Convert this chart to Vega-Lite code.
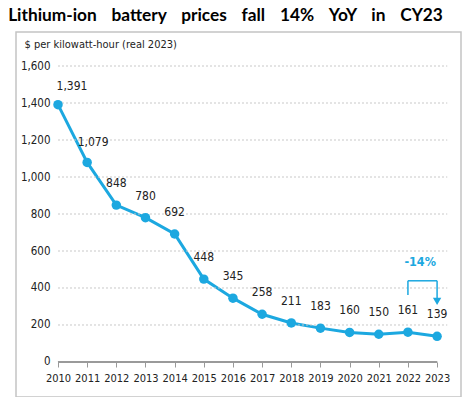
{
  "$schema": "https://vega.github.io/schema/vega-lite/v6.json",
  "autosize": {"type": "none"},
  "width": 445,
  "height": 365,
  "padding": {"left": 16, "top": 32, "right": 13, "bottom": 0},
  "background": "white",
  "title": {
    "text": "Lithium-ion\u00a0\u00a0\u00a0\u2009battery\u00a0\u00a0\u00a0\u2009prices\u00a0\u00a0\u00a0\u2009fall\u00a0\u00a0\u00a0\u200914%\u00a0\u00a0\u00a0\u2009YoY\u00a0\u00a0\u00a0\u2009in\u00a0\u00a0\u00a0\u2009CY23",
    "font": "Lato",
    "fontSize": 17.3,
    "fontWeight": "bold",
    "color": "#000000",
    "anchor": "middle",
    "dx": -13,
    "offset": 8
  },
  "datasets": {
    "prices": [
      {"year": 2010, "price": 1391},
      {"year": 2011, "price": 1079},
      {"year": 2012, "price": 848},
      {"year": 2013, "price": 780},
      {"year": 2014, "price": 692},
      {"year": 2015, "price": 448},
      {"year": 2016, "price": 345},
      {"year": 2017, "price": 258},
      {"year": 2018, "price": 211},
      {"year": 2019, "price": 183},
      {"year": 2020, "price": 160},
      {"year": 2021, "price": 150},
      {"year": 2022, "price": 161},
      {"year": 2023, "price": 139}
    ],
    "grid": [
      {"v": 200}, {"v": 400}, {"v": 600}, {"v": 800},
      {"v": 1000}, {"v": 1200}, {"v": 1400}, {"v": 1600}
    ],
    "bracket": [
      {"xa": 2022, "ya": 362, "xb": 2022, "yb": 439},
      {"xa": 2022, "ya": 439, "xb": 2023, "yb": 439},
      {"xa": 2023, "ya": 439, "xb": 2023, "yb": 335}
    ],
    "arrow": [{"year": 2023, "price": 328}],
    "note": [{"year": 2022.42, "price": 540, "label": "-14%"}]
  },
  "config": {
    "view": {"stroke": "#c4c4c4", "strokeWidth": 1.5},
    "text": {"font": "DejaVu Sans Condensed"},
    "axis": {
      "labelFont": "DejaVu Sans Condensed",
      "labelColor": "#222222",
      "titleFont": "DejaVu Sans Condensed",
      "titleFontSize": 11,
      "titleFontWeight": "normal",
      "titleColor": "#222222",
      "grid": false,
      "domain": false
    },
    "axisX": {"labelFontSize": 11},
    "axisY": {"labelFontSize": 11.5}
  },
  "layer": [
    {
      "data": {"name": "prices"},
      "mark": {"type": "line", "color": "#1ca8e0", "strokeWidth": 3},
      "encoding": {
        "x": {"field": "year", "type": "quantitative", "scale": {"domain": [2008.56, 2023.82], "nice": false, "zero": false}, "title": null,
          "axis": {"orient": "bottom", "offset": -35, "values": [2010, 2011, 2012, 2013, 2014, 2015, 2016, 2017, 2018, 2019, 2020, 2021, 2022, 2023], "format": "d", "tickSize": 5, "tickColor": "#999999", "labelPadding": 5, "labelFlush": false, "labelOverlap": false}},
        "y": {"field": "price", "type": "quantitative", "scale": {"domain": [-189.2, 1783.8], "nice": false, "zero": false}, "title": "$ per kilowatt-hour (real 2023)",
          "axis": {"orient": "left", "offset": -42, "values": [0, 200, 400, 600, 800, 1000, 1200, 1400, 1600], "format": ",.0f", "ticks": false, "labelPadding": 8, "titleAngle": 0, "titleAlign": "left", "titleBaseline": "alphabetic", "titleX": -34, "titleY": 15}}
      }
    },
    {
      "data": {"name": "grid"},
      "mark": {"type": "rule", "color": "#c8c8c8", "strokeDash": [2, 2], "strokeWidth": 1},
      "encoding": {
        "y": {"field": "v", "type": "quantitative", "scale": {"domain": [-189.2, 1783.8], "nice": false, "zero": false}, "title": "$ per kilowatt-hour (real 2023)",
          "axis": {"orient": "left", "offset": -42, "values": [0, 200, 400, 600, 800, 1000, 1200, 1400, 1600], "format": ",.0f", "ticks": false, "labelPadding": 8, "titleAngle": 0, "titleAlign": "left", "titleBaseline": "alphabetic", "titleX": -34, "titleY": 15}},
        "x": {"datum": 2010, "type": "quantitative", "scale": {"domain": [2008.56, 2023.82], "nice": false, "zero": false}, "title": null,
          "axis": {"orient": "bottom", "offset": -35, "values": [2010, 2011, 2012, 2013, 2014, 2015, 2016, 2017, 2018, 2019, 2020, 2021, 2022, 2023], "format": "d", "tickSize": 5, "tickColor": "#999999", "labelPadding": 5, "labelFlush": false, "labelOverlap": false}},
        "x2": {"datum": 2023.35}
      }
    },
    {
      "data": {"name": "grid"},
      "mark": {"type": "rule", "color": "#9a9a9a", "strokeWidth": 1},
      "encoding": {
        "y": {"datum": 0, "type": "quantitative", "scale": {"domain": [-189.2, 1783.8], "nice": false, "zero": false}, "title": "$ per kilowatt-hour (real 2023)",
          "axis": {"orient": "left", "offset": -42, "values": [0, 200, 400, 600, 800, 1000, 1200, 1400, 1600], "format": ",.0f", "ticks": false, "labelPadding": 8, "titleAngle": 0, "titleAlign": "left", "titleBaseline": "alphabetic", "titleX": -34, "titleY": 15}},
        "x": {"datum": 2010, "type": "quantitative", "scale": {"domain": [2008.56, 2023.82], "nice": false, "zero": false}, "title": null,
          "axis": {"orient": "bottom", "offset": -35, "values": [2010, 2011, 2012, 2013, 2014, 2015, 2016, 2017, 2018, 2019, 2020, 2021, 2022, 2023], "format": "d", "tickSize": 5, "tickColor": "#999999", "labelPadding": 5, "labelFlush": false, "labelOverlap": false}},
        "x2": {"datum": 2023}
      }
    },
    {
      "data": {"name": "prices"},
      "mark": {"type": "circle", "color": "#1ca8e0", "size": 90, "opacity": 1},
      "encoding": {
        "x": {"field": "year", "type": "quantitative", "scale": {"domain": [2008.56, 2023.82], "nice": false, "zero": false}, "title": null,
          "axis": {"orient": "bottom", "offset": -35, "values": [2010, 2011, 2012, 2013, 2014, 2015, 2016, 2017, 2018, 2019, 2020, 2021, 2022, 2023], "format": "d", "tickSize": 5, "tickColor": "#999999", "labelPadding": 5, "labelFlush": false, "labelOverlap": false}},
        "y": {"field": "price", "type": "quantitative", "scale": {"domain": [-189.2, 1783.8], "nice": false, "zero": false}, "title": "$ per kilowatt-hour (real 2023)",
          "axis": {"orient": "left", "offset": -42, "values": [0, 200, 400, 600, 800, 1000, 1200, 1400, 1600], "format": ",.0f", "ticks": false, "labelPadding": 8, "titleAngle": 0, "titleAlign": "left", "titleBaseline": "alphabetic", "titleX": -34, "titleY": 15}}
      }
    },
    {
      "data": {"name": "prices"},
      "transform": [{"filter": "datum.year >= 2012"}],
      "mark": {"type": "text", "fontSize": 12, "color": "#222222", "dy": -22, "baseline": "middle"},
      "encoding": {
        "x": {"field": "year", "type": "quantitative", "scale": {"domain": [2008.56, 2023.82], "nice": false, "zero": false}, "title": null,
          "axis": {"orient": "bottom", "offset": -35, "values": [2010, 2011, 2012, 2013, 2014, 2015, 2016, 2017, 2018, 2019, 2020, 2021, 2022, 2023], "format": "d", "tickSize": 5, "tickColor": "#999999", "labelPadding": 5, "labelFlush": false, "labelOverlap": false}},
        "y": {"field": "price", "type": "quantitative", "scale": {"domain": [-189.2, 1783.8], "nice": false, "zero": false}, "title": "$ per kilowatt-hour (real 2023)",
          "axis": {"orient": "left", "offset": -42, "values": [0, 200, 400, 600, 800, 1000, 1200, 1400, 1600], "format": ",.0f", "ticks": false, "labelPadding": 8, "titleAngle": 0, "titleAlign": "left", "titleBaseline": "alphabetic", "titleX": -34, "titleY": 15}},
        "text": {"field": "price", "type": "quantitative", "format": ","}
      }
    },
    {
      "data": {"name": "prices"},
      "transform": [{"filter": "datum.year == 2010"}],
      "mark": {"type": "text", "fontSize": 12, "color": "#222222", "dx": 14, "dy": -19, "baseline": "middle"},
      "encoding": {
        "x": {"field": "year", "type": "quantitative", "scale": {"domain": [2008.56, 2023.82], "nice": false, "zero": false}, "title": null,
          "axis": {"orient": "bottom", "offset": -35, "values": [2010, 2011, 2012, 2013, 2014, 2015, 2016, 2017, 2018, 2019, 2020, 2021, 2022, 2023], "format": "d", "tickSize": 5, "tickColor": "#999999", "labelPadding": 5, "labelFlush": false, "labelOverlap": false}},
        "y": {"field": "price", "type": "quantitative", "scale": {"domain": [-189.2, 1783.8], "nice": false, "zero": false}, "title": "$ per kilowatt-hour (real 2023)",
          "axis": {"orient": "left", "offset": -42, "values": [0, 200, 400, 600, 800, 1000, 1200, 1400, 1600], "format": ",.0f", "ticks": false, "labelPadding": 8, "titleAngle": 0, "titleAlign": "left", "titleBaseline": "alphabetic", "titleX": -34, "titleY": 15}},
        "text": {"field": "price", "type": "quantitative", "format": ","}
      }
    },
    {
      "data": {"name": "prices"},
      "transform": [{"filter": "datum.year == 2011"}],
      "mark": {"type": "text", "fontSize": 12, "color": "#222222", "dx": 6, "dy": -20, "baseline": "middle"},
      "encoding": {
        "x": {"field": "year", "type": "quantitative", "scale": {"domain": [2008.56, 2023.82], "nice": false, "zero": false}, "title": null,
          "axis": {"orient": "bottom", "offset": -35, "values": [2010, 2011, 2012, 2013, 2014, 2015, 2016, 2017, 2018, 2019, 2020, 2021, 2022, 2023], "format": "d", "tickSize": 5, "tickColor": "#999999", "labelPadding": 5, "labelFlush": false, "labelOverlap": false}},
        "y": {"field": "price", "type": "quantitative", "scale": {"domain": [-189.2, 1783.8], "nice": false, "zero": false}, "title": "$ per kilowatt-hour (real 2023)",
          "axis": {"orient": "left", "offset": -42, "values": [0, 200, 400, 600, 800, 1000, 1200, 1400, 1600], "format": ",.0f", "ticks": false, "labelPadding": 8, "titleAngle": 0, "titleAlign": "left", "titleBaseline": "alphabetic", "titleX": -34, "titleY": 15}},
        "text": {"field": "price", "type": "quantitative", "format": ","}
      }
    },
    {
      "data": {"name": "bracket"},
      "mark": {"type": "rule", "color": "#1ca8e0", "strokeWidth": 1.5},
      "encoding": {
        "x": {"field": "xa", "type": "quantitative", "scale": {"domain": [2008.56, 2023.82], "nice": false, "zero": false}, "title": null,
          "axis": {"orient": "bottom", "offset": -35, "values": [2010, 2011, 2012, 2013, 2014, 2015, 2016, 2017, 2018, 2019, 2020, 2021, 2022, 2023], "format": "d", "tickSize": 5, "tickColor": "#999999", "labelPadding": 5, "labelFlush": false, "labelOverlap": false}},
        "y": {"field": "ya", "type": "quantitative", "scale": {"domain": [-189.2, 1783.8], "nice": false, "zero": false}, "title": "$ per kilowatt-hour (real 2023)",
          "axis": {"orient": "left", "offset": -42, "values": [0, 200, 400, 600, 800, 1000, 1200, 1400, 1600], "format": ",.0f", "ticks": false, "labelPadding": 8, "titleAngle": 0, "titleAlign": "left", "titleBaseline": "alphabetic", "titleX": -34, "titleY": 15}},
        "x2": {"field": "xb"},
        "y2": {"field": "yb"}
      }
    },
    {
      "data": {"name": "arrow"},
      "mark": {"type": "point", "shape": "triangle-down", "filled": true, "color": "#1ca8e0", "size": 70, "opacity": 1},
      "encoding": {
        "x": {"field": "year", "type": "quantitative", "scale": {"domain": [2008.56, 2023.82], "nice": false, "zero": false}, "title": null,
          "axis": {"orient": "bottom", "offset": -35, "values": [2010, 2011, 2012, 2013, 2014, 2015, 2016, 2017, 2018, 2019, 2020, 2021, 2022, 2023], "format": "d", "tickSize": 5, "tickColor": "#999999", "labelPadding": 5, "labelFlush": false, "labelOverlap": false}},
        "y": {"field": "price", "type": "quantitative", "scale": {"domain": [-189.2, 1783.8], "nice": false, "zero": false}, "title": "$ per kilowatt-hour (real 2023)",
          "axis": {"orient": "left", "offset": -42, "values": [0, 200, 400, 600, 800, 1000, 1200, 1400, 1600], "format": ",.0f", "ticks": false, "labelPadding": 8, "titleAngle": 0, "titleAlign": "left", "titleBaseline": "alphabetic", "titleX": -34, "titleY": 15}}
      }
    },
    {
      "data": {"name": "note"},
      "mark": {"type": "text", "fontSize": 12.5, "fontWeight": "bold", "color": "#1ca8e0", "baseline": "middle"},
      "encoding": {
        "x": {"field": "year", "type": "quantitative", "scale": {"domain": [2008.56, 2023.82], "nice": false, "zero": false}, "title": null,
          "axis": {"orient": "bottom", "offset": -35, "values": [2010, 2011, 2012, 2013, 2014, 2015, 2016, 2017, 2018, 2019, 2020, 2021, 2022, 2023], "format": "d", "tickSize": 5, "tickColor": "#999999", "labelPadding": 5, "labelFlush": false, "labelOverlap": false}},
        "y": {"field": "price", "type": "quantitative", "scale": {"domain": [-189.2, 1783.8], "nice": false, "zero": false}, "title": "$ per kilowatt-hour (real 2023)",
          "axis": {"orient": "left", "offset": -42, "values": [0, 200, 400, 600, 800, 1000, 1200, 1400, 1600], "format": ",.0f", "ticks": false, "labelPadding": 8, "titleAngle": 0, "titleAlign": "left", "titleBaseline": "alphabetic", "titleX": -34, "titleY": 15}},
        "text": {"field": "label"}
      }
    }
  ]
}
